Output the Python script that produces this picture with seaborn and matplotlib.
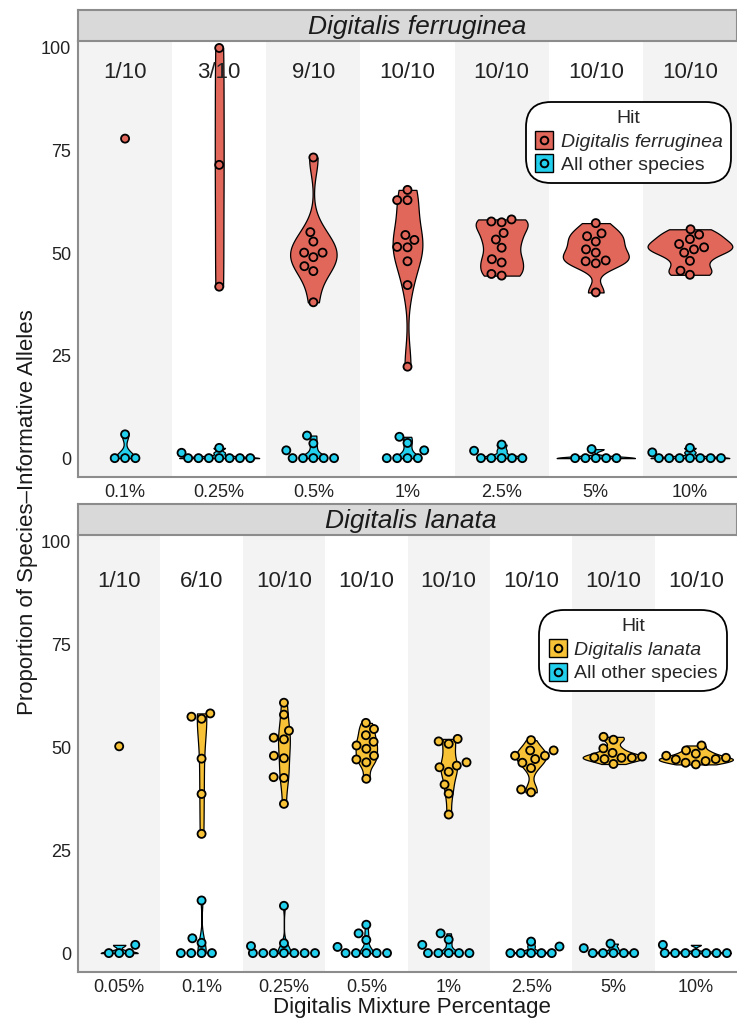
import pandas as pd
import matplotlib.pyplot as plt
from matplotlib.lines import Line2D
import seaborn as sns

sns.set_style("white")
plt.rcParams["font.family"] = ["Liberation Sans", "DejaVu Sans"]

# --- Digitalis ferruginea panel ---
fer_pct = ["0.1%", "0.25%", "0.5%", "1%", "2.5%", "5%", "10%"]
fer_counts = ["1/10", "3/10", "9/10", "10/10", "10/10", "10/10", "10/10"]
fer_hit = [
    [77.9],
    [100.0, 71.5, 41.8],
    [73.3, 55.1, 52.8, 50.1, 50.1, 49.0, 46.8, 45.6, 38.0],
    [65.4, 62.9, 62.9, 54.4, 53.2, 51.5, 51.4, 48.0, 42.2, 22.3],
    [58.2, 57.7, 57.5, 54.9, 53.3, 51.3, 48.5, 47.7, 44.9, 44.5],
    [57.3, 54.8, 54.1, 52.8, 50.9, 50.1, 48.2, 48.0, 47.5, 40.4],
    [55.8, 54.5, 53.4, 52.2, 51.4, 50.9, 50.1, 48.1, 45.7, 44.7],
]
fer_other = [
    [0, 0, 0, 5.8],
    [0, 0, 0, 0, 0, 0, 0, 1.3, 2.5],
    [0, 0, 0, 0, 0, 1.9, 3.6, 5.5],
    [0, 0, 0, 0, 1.9, 3.7, 5.2],
    [0, 0, 0, 0, 0, 1.8, 3.3],
    [0, 0, 0, 0, 0, 2.2],
    [0, 0, 0, 0, 0, 0, 0, 1.4, 2.5],
]

# --- Digitalis lanata panel ---
lan_pct = ["0.05%", "0.1%", "0.25%", "0.5%", "1%", "2.5%", "5%", "10%"]
lan_counts = ["1/10", "6/10", "10/10", "10/10", "10/10", "10/10", "10/10", "10/10"]
lan_hit = [
    [50.3],
    [58.3, 57.5, 57.0, 47.3, 38.7, 29.0],
    [60.9, 58.0, 54.1, 52.4, 52.0, 48.0, 47.4, 42.8, 42.6, 36.3],
    [56.0, 54.5, 53.0, 51.4, 50.5, 49.7, 48.0, 47.1, 46.4, 42.4],
    [52.1, 51.5, 50.9, 46.4, 45.6, 45.2, 44.1, 41.0, 38.8, 33.7],
    [51.8, 49.3, 49.3, 48.0, 48.0, 47.2, 46.3, 45.0, 39.8, 39.1],
    [52.6, 51.9, 49.8, 48.7, 47.8, 47.6, 47.5, 47.5, 47.2, 46.0],
    [50.5, 49.3, 48.5, 48.0, 47.5, 47.2, 47.1, 46.7, 46.3, 45.9],
]
lan_other = [
    [0, 0, 0, 2.0],
    [0, 0, 0, 0, 2.5, 3.6, 12.8],
    [0, 0, 0, 0, 0, 0, 0, 1.7, 2.4, 11.5],
    [0, 0, 0, 0, 0, 1.5, 3.2, 4.8, 6.9],
    [0, 0, 0, 0, 0, 2.0, 3.3, 4.8],
    [0, 0, 0, 0, 0, 1.6, 2.8],
    [0, 0, 0, 0, 0, 1.2, 2.3],
    [0, 0, 0, 0, 0, 0, 0, 2.0],
]

OTHER = "All other species"
RED, YELLOW, CYAN = "#E1675B", "#F8C237", "#22D0EE"
BAND = "#F3F3F3"
GREY = "#8C8C8C"


def to_long(pcts, hit, other, hit_name):
    rows = []
    for p, h, o in zip(pcts, hit, other):
        rows += [(p, v, hit_name) for v in h]
        rows += [(p, v, OTHER) for v in o]
    return pd.DataFrame(rows, columns=["pct", "value", "Hit"])


def draw_panel(ax, strip_ax, pcts, counts, hit, other, hit_name, hit_color,
               count_y, leg_anchor, title_x):
    df = to_long(pcts, hit, other, hit_name)

    # alternating background bands
    for i in range(len(pcts)):
        if i % 2 == 0:
            ax.axvspan(i - 0.5, i + 0.5, color=BAND, lw=0, zorder=0)

    # violins, one layer per hit group (single points get no violin)
    hits = df[df["Hit"] == hit_name]
    hits = hits[hits.groupby("pct")["value"].transform("size") > 1]
    sns.violinplot(data=hits, x="pct", y="value", order=pcts, color=hit_color,
                   density_norm="area", cut=0, inner=None, width=0.9,
                   bw_adjust=0.65, linecolor="black", linewidth=0.9,
                   saturation=1, ax=ax)
    others = df[df["Hit"] == OTHER]
    sns.violinplot(data=others, x="pct", y="value", order=pcts, color=CYAN,
                   density_norm="area", cut=0, inner=None, width=0.85,
                   bw_adjust=0.65, linecolor="black", linewidth=0.9,
                   saturation=1, ax=ax)

    # points
    sns.swarmplot(data=df, x="pct", y="value", hue="Hit", order=pcts,
                  hue_order=[hit_name, OTHER],
                  palette={hit_name: hit_color, OTHER: CYAN},
                  size=5.8, edgecolor="black", linewidth=1.3,
                  legend=False, ax=ax)

    for i, c in enumerate(counts):
        ax.text(i, count_y, c, ha="center", va="center", fontsize=16,
                color="#222222", zorder=5)

    ax.set_xlim(-0.5, len(pcts) - 0.5)
    ax.set_ylim(-4.6, 101.7)
    ax.set_yticks([0, 25, 50, 75, 100])
    ax.set_xlabel("")
    ax.set_ylabel("")
    ax.tick_params(length=0, labelsize=13, labelcolor="#222222", pad=5)
    for s in ["top", "right"]:
        ax.spines[s].set_visible(False)
    for s in ["left", "bottom"]:
        ax.spines[s].set_color(GREY)
        ax.spines[s].set_linewidth(1.5)

    handles = [
        (Line2D([], [], marker="s", ms=13, mfc=c, mec="black", mew=1, ls=""),
         Line2D([], [], marker="o", ms=5.5, mfc=c, mec="black", mew=1.4, ls=""))
        for c in [hit_color, CYAN]
    ]
    leg = ax.legend(handles, [hit_name, OTHER], title="Hit", loc="upper right",
                    bbox_to_anchor=leg_anchor, fontsize=14, title_fontsize=14,
                    handlelength=1.0, handletextpad=0.35, labelspacing=0.3,
                    borderpad=0.45, borderaxespad=0.2, framealpha=1,
                    edgecolor="black")
    leg.get_frame().set_linewidth(1.3)
    leg.get_frame().set_boxstyle("round", pad=0, rounding_size=1.3)
    leg.get_texts()[0].set_style("italic")

    strip_ax.set_facecolor("#D9D9D9")
    strip_ax.set_xticks([])
    strip_ax.set_yticks([])
    for s in strip_ax.spines.values():
        s.set_color(GREY)
        s.set_linewidth(1.5)
    strip_ax.text(title_x, 0.45, hit_name, ha="center", va="center",
                  fontsize=19, style="italic", color="#1a1a1a",
                  transform=strip_ax.transAxes)


fig = plt.figure(figsize=(7.37, 10.24), dpi=100)
left, width = 78 / 737, 659 / 737

ax_top = fig.add_axes([left, 1 - 477 / 1024, width, 436 / 1024])
strip_top = fig.add_axes([left, 1 - 41 / 1024, width, 31 / 1024])
ax_bot = fig.add_axes([left, 1 - 972 / 1024, width, 437 / 1024])
strip_bot = fig.add_axes([left, 1 - 535 / 1024, width, 31 / 1024])

draw_panel(ax_top, strip_top, fer_pct, fer_counts, fer_hit, fer_other,
           "Digitalis ferruginea", RED, 94, (0.997, 0.87), 0.515)
draw_panel(ax_bot, strip_bot, lan_pct, lan_counts, lan_hit, lan_other,
           "Digitalis lanata", YELLOW, 90.3, (0.99, 0.838), 0.505)

fig.text(28 / 737, 0.5, "Proportion of Species\u2013Informative Alleles",
         rotation=90, ha="center", va="center", fontsize=16, color="#1a1a1a")
fig.text(412 / 737, 1 - 1008 / 1024, "Digitalis Mixture Percentage",
         ha="center", va="center", fontsize=16, color="#1a1a1a")

fig.savefig("out.png", dpi=100)
